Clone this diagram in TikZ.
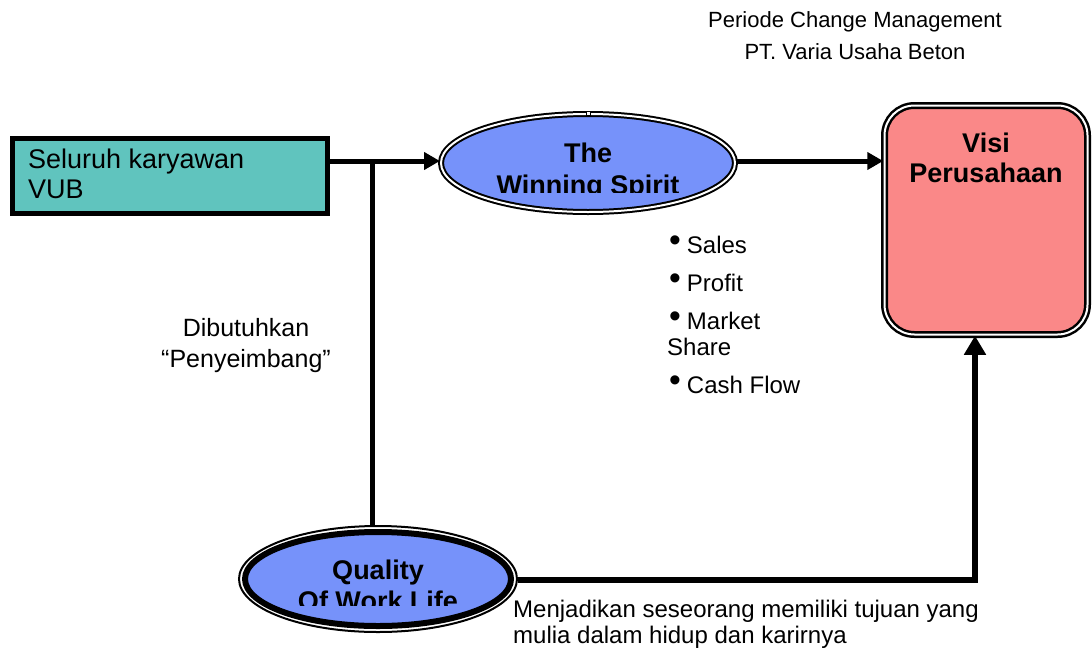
\documentclass[tikz,border=0pt]{standalone}
\usepackage{fontspec}
\setmainfont{Liberation Sans}
\usetikzlibrary{shapes.geometric,arrows.meta}
\definecolor{vubteal}{RGB}{96,196,190}
\definecolor{wsblue}{RGB}{118,146,250}
\definecolor{visipink}{RGB}{250,136,136}
\newcommand{\bul}{\raisebox{2pt}{\scalebox{1.4}{\textbullet}}\hspace{6pt}}
\begin{document}
\begin{tikzpicture}[x=1pt,y=-1pt,
  conn/.style={line width=5pt},
  arr/.style={conn,-{Triangle[length=16pt,width=17pt]}},
  arrbig/.style={line width=6pt,-{Triangle[length=19pt,width=21pt]}},
  lbl/.style={inner sep=0pt, font=\fontsize{24}{29}\selectfont},
  boldlbl/.style={inner sep=0pt, font=\fontsize{27}{31}\selectfont\bfseries},
  titlelbl/.style={inner sep=0pt, font=\fontsize{22}{26}\selectfont},
]
\path[use as bounding box, fill=white] (0,0) rectangle (1092,648);

% title
\node[titlelbl, anchor=base] (t1) at (855,27) {Periode Change Management};
\node[titlelbl, anchor=base] (t2) at (855,59) {PT. Varia Usaha Beton};

% box
\node[draw, line width=5pt, fill=vubteal, minimum width=315pt, minimum height=75pt, inner sep=0pt] (vub) at (170,176) {};
\node[boldlbl, font=\fontsize{27}{31}\selectfont, anchor=base west] (vub1) at (28,168) {Seluruh karyawan};
\node[boldlbl, font=\fontsize{27}{31}\selectfont, anchor=base west] (vub2) at (28,198) {VUB};

% winning spirit
\node[ellipse, draw, line width=2pt, double=white, double distance=2pt, fill=wsblue, minimum width=294pt, minimum height=98pt, inner sep=0pt] (ws) at (588,163) {};
\node[draw, line width=1pt, fill=white, minimum size=4pt, inner sep=0pt] (wsmark) at (588,113) {};
\node[boldlbl, anchor=base] (ws1) at (588,162) {The};
\begin{scope}
\clip (440,100) rectangle (740,192);
\node[boldlbl, anchor=base] (ws2) at (588,194) {Winning Spirit};
\end{scope}

% visi
\node[draw, line width=2.5pt, double=white, double distance=2pt, rounded corners=30pt, fill=visipink, minimum width=203pt, minimum height=229pt, inner sep=0pt] (visi) at (986,220) {};
\node[boldlbl, anchor=base] (v1) at (986,152) {Visi};
\node[boldlbl, anchor=base] (v2) at (986,182) {Perusahaan};

% quality
\node[ellipse, draw, line width=2pt, minimum width=278pt, minimum height=106pt, inner sep=0pt] (qring) at (378,579) {};
\node[ellipse, draw, line width=6pt, fill=wsblue, minimum width=266pt, minimum height=94pt, inner sep=0pt] (qwl) at (378,579) {};
\node[boldlbl, anchor=base] (q1) at (378,579) {Quality};
\begin{scope}
\clip (250,540) rectangle (510,605);
\node[boldlbl, anchor=base] (q2) at (378,610) {Of Work Life};
\end{scope}

% bullets
\node[lbl, anchor=base west] (b1) at (669,253) {\bul Sales};
\node[lbl, anchor=base west] (b2) at (669,291) {\bul Profit};
\node[lbl, anchor=base west] (b3) at (669,329) {\bul Market};
\node[lbl, anchor=base west] (b4) at (667,355) {Share};
\node[lbl, anchor=base west] (b5) at (669,393) {\bul Cash Flow};

% side labels
\node[lbl, font=\fontsize{25}{30}\selectfont, anchor=base] (d1) at (246,336) {Dibutuhkan};
\node[lbl, font=\fontsize{25}{30}\selectfont, anchor=base] (d2) at (246,367) {“Penyeimbang”};

\node[lbl, anchor=base west] (m1) at (513,617) {Menjadikan seseorang memiliki tujuan yang};
\node[lbl, anchor=base west] (m2) at (513,643) {mulia dalam hidup dan karirnya};

% connectors
\coordinate (j) at (372,161);
\coordinate (corner) at (975,580);
\draw[conn] (vub.east |- j) -- (j);
\draw[arr] (j) -- (ws.west |- j);
\draw[arr] (ws.east |- j) -- (visi.west |- j);
\draw[conn] (j) -- (qring.north -| j);
\draw[arrbig] (qring.east |- corner) -- (corner) -- (visi.south -| corner);
\end{tikzpicture}
\end{document}
